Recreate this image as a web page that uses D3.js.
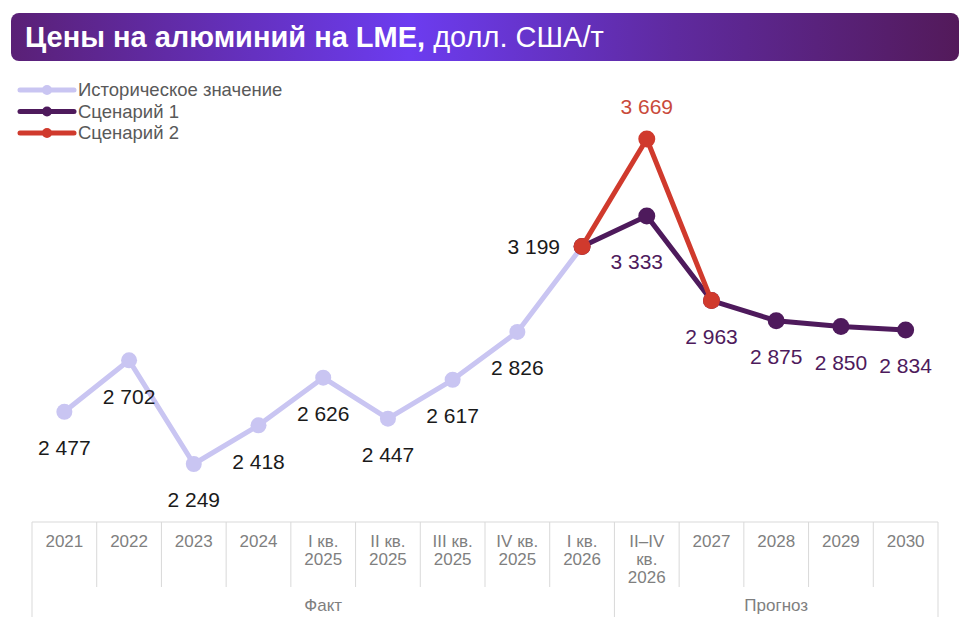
<!DOCTYPE html>
<html>
<head>
<meta charset="utf-8">
<script src="https://cdn.jsdelivr.net/npm/d3@7"></script>
<style>
  body { margin: 0; background: #fff; }
  svg { display: block; font-family: "Liberation Sans", Arial, sans-serif; }
</style>
</head>
<body>
<div id="chart"></div>
<script>
const categories = [
  "2021", "2022", "2023", "2024",
  "I кв.\n2025", "II кв.\n2025", "III кв.\n2025", "IV кв.\n2025",
  "I кв.\n2026", "II–IV\nкв.\n2026",
  "2027", "2028", "2029", "2030",
];
const historical = [2477, 2702, 2249, 2418, 2626, 2447, 2617, 2826, 3199, null, null, null, null, null];
const scenario1 = [null, null, null, null, null, null, null, null, 3199, 3333, 2963, 2875, 2850, 2834];
const scenario2 = [null, null, null, null, null, null, null, null, 3199, 3669, 2963, null, null, null];
const groupLabels = ["Факт", "Прогноз"];
const groupSizes = [9, 5];
const seriesNames = ["Историческое значение", "Сценарий 1", "Сценарий 2"];

const width = 974,
  height = 626;

const fmt = d3.formatLocale({ decimal: ",", thousands: " ", grouping: [3], currency: ["", ""] }).format(",d");

const series = [
  { name: seriesNames[0], values: historical, color: "#c9c5f2", text: "#1a1a1a", r: 8 },
  { name: seriesNames[1], values: scenario1, color: "#4e1a5c", text: "#4e1a5c", r: 8.5 },
  { name: seriesNames[2], values: scenario2, color: "#d03a2d", text: "#c94a3b", r: 8.5 },
];

const svg = d3
  .select("#chart")
  .append("svg")
  .attr("width", width)
  .attr("height", height);

// Title bar
const grad = svg
  .append("defs")
  .append("linearGradient")
  .attr("id", "titleGrad")
  .attr("x1", "0%")
  .attr("x2", "100%");
[
  [0, "#5a2076"],
  [0.42, "#6c3cf0"],
  [0.7, "#5f2a9f"],
  [1, "#531a5a"],
].forEach(([o, c]) => grad.append("stop").attr("offset", o).attr("stop-color", c));

svg
  .append("rect")
  .attr("x", 11)
  .attr("y", 13)
  .attr("width", 948)
  .attr("height", 48)
  .attr("rx", 8)
  .attr("fill", "url(#titleGrad)");

const title = svg
  .append("text")
  .attr("x", 25)
  .attr("y", 47)
  .attr("fill", "#fff")
  .attr("font-size", "29px");
title.append("tspan").attr("font-weight", "bold").text("Цены на алюминий на LME,");
title.append("tspan").text(" долл. США/т");

// Scales
const x = d3.scaleBand().domain(d3.range(categories.length)).range([32, 938]);
const cx = (i) => x(i) + x.bandwidth() / 2;
const y = d3.scaleLinear().domain([2000, 3800]).range([521, 109]);

// Table below the chart
const tableTop = 522,
  rowBottom = 587,
  tableBottom = 617;
const lineColor = "#d9d9d9";
const grid = svg.append("g").attr("stroke", lineColor).attr("stroke-width", 1);

grid
  .append("line")
  .attr("x1", 32)
  .attr("x2", 938)
  .attr("y1", tableTop)
  .attr("y2", tableTop);

const groupEdges = d3.cumsum(groupSizes);
d3.range(categories.length + 1).forEach((i) => {
  const xx = i === categories.length ? x.range()[1] : x(i);
  const full = i === 0 || groupEdges.includes(i);
  grid
    .append("line")
    .attr("x1", xx)
    .attr("x2", xx)
    .attr("y1", tableTop)
    .attr("y2", full ? tableBottom : rowBottom);
});

svg
  .append("g")
  .selectAll("text")
  .data(categories)
  .join("text")
  .attr("text-anchor", "middle")
  .attr("fill", "#7f7f7f")
  .attr("font-size", "17px")
  .each(function (d, i) {
    d3.select(this)
      .selectAll("tspan")
      .data(d.split("\n"))
      .join("tspan")
      .attr("x", cx(i))
      .attr("y", (_, j) => 547 + j * 18)
      .text((t) => t);
  });

let start = 0;
groupLabels.forEach((g, k) => {
  const x0 = x(start),
    x1 = x(start + groupSizes[k] - 1) + x.bandwidth();
  svg
    .append("text")
    .attr("x", (x0 + x1) / 2)
    .attr("y", 611)
    .attr("text-anchor", "middle")
    .attr("fill", "#7f7f7f")
    .attr("font-size", "17px")
    .text(g);
  start += groupSizes[k];
});

// Lines and markers
const line = d3
  .line()
  .defined((d) => d != null)
  .x((d, i) => cx(i))
  .y((d) => y(d));

series.forEach((s) => {
  const g = svg.append("g");
  g.append("path")
    .attr("d", line(s.values))
    .attr("fill", "none")
    .attr("stroke", s.color)
    .attr("stroke-width", 5)
    .attr("stroke-linejoin", "round");
  g.selectAll("circle")
    .data(s.values.map((v, i) => ({ v, i })).filter((d) => d.v != null))
    .join("circle")
    .attr("cx", (d) => cx(d.i))
    .attr("cy", (d) => y(d.v))
    .attr("r", s.r)
    .attr("fill", s.color);
});

// Data labels: each point is labelled once, by the first series that has it
const labelled = new Set();
series.forEach((s, k) => {
  s.values.forEach((v, i) => {
    if (v == null) return;
    const key = i + ":" + v;
    if (labelled.has(key)) return;
    labelled.add(key);

    let dx = 0,
      dy = 36,
      anchor = "middle";
    const next = s.values[i + 1];
    if (k === 0 && next == null) {
      // last historical point: label on the left
      dx = -22;
      dy = 0;
      anchor = "end";
    } else if (k === 2) {
      dy = -32;
    } else if (k === 1 && s.values[i - 1] != null && series[0].values[i - 1] != null) {
      dx = -10;
      dy = 46;
    }

    svg
      .append("text")
      .attr("x", cx(i) + dx)
      .attr("y", y(v) + dy)
      .attr("dy", "0.35em")
      .attr("text-anchor", anchor)
      .attr("fill", s.text)
      .attr("font-size", "21px")
      .text(fmt(v));
  });
});

// Legend
const legend = svg.append("g");
series.forEach((s, k) => {
  const ly = 90 + k * 21.5;
  legend
    .append("line")
    .attr("x1", 20)
    .attr("x2", 74)
    .attr("y1", ly)
    .attr("y2", ly)
    .attr("stroke", s.color)
    .attr("stroke-width", 5)
    .attr("stroke-linecap", "round");
  legend.append("circle").attr("cx", 47).attr("cy", ly).attr("r", 5).attr("fill", s.color);
  legend
    .append("text")
    .attr("x", 78)
    .attr("y", ly)
    .attr("dy", "0.35em")
    .attr("fill", "#595959")
    .attr("font-size", "18.5px")
    .text(s.name);
});
</script>
</body>
</html>
